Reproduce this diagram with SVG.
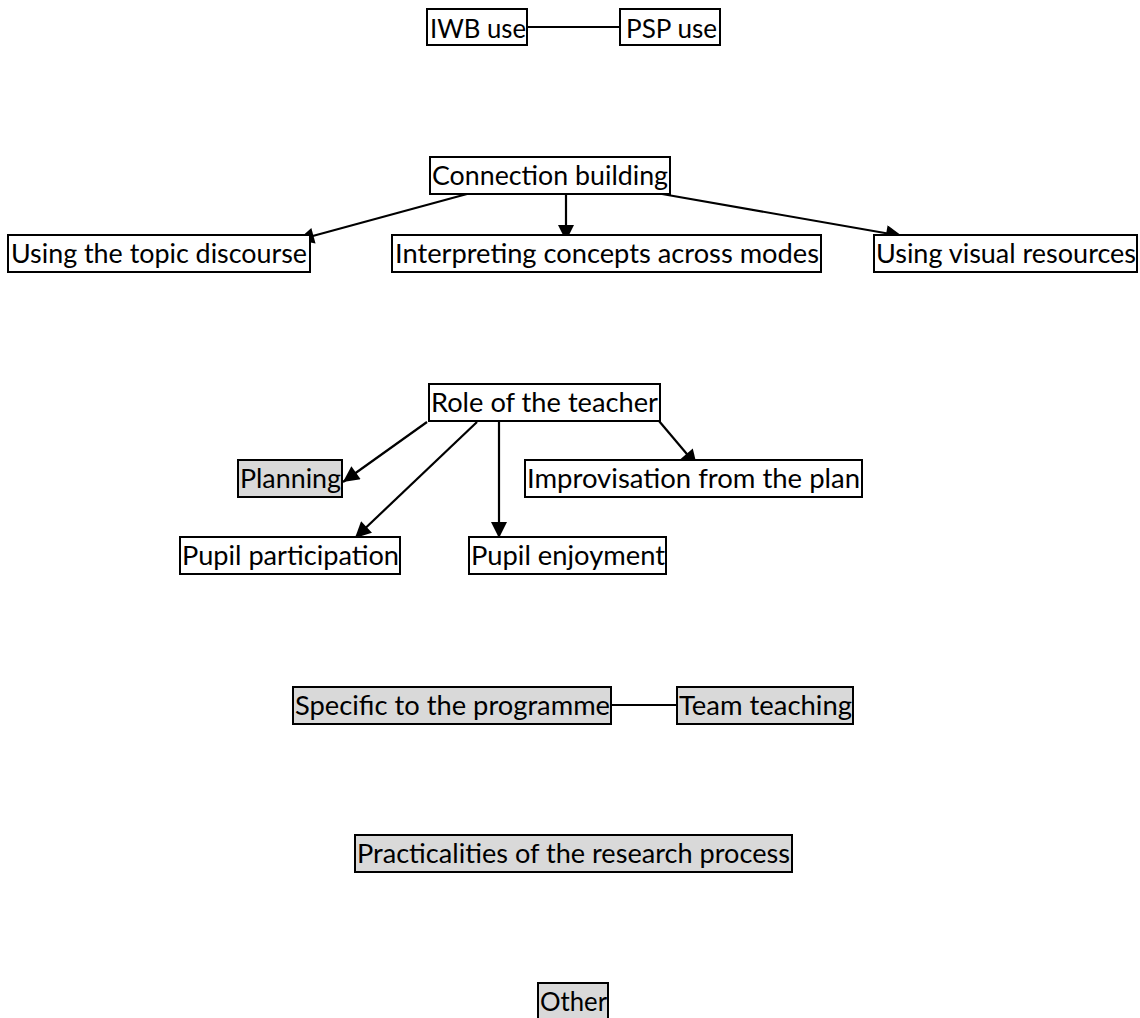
<svg xmlns="http://www.w3.org/2000/svg" width="1140" height="1018" viewBox="0 0 1140 1018">
<style>
.box{fill:#ffffff;stroke:#000000;stroke-width:2}
.gray{fill:#d9d9d9;stroke:#000000;stroke-width:2}
.lbl{font-family:Lato,"Open Sans","Liberation Sans",sans-serif;font-size:26.5px;fill:#000000}
.con{stroke:#000000;stroke-width:2;fill:none}
.arr{stroke:#000000;stroke-width:2.2;fill:none;marker-end:url(#ah)}
</style>
<defs>
<marker id="ah" viewBox="0 0 10 10" refX="10" refY="5" markerWidth="17" markerHeight="16" markerUnits="userSpaceOnUse" orient="auto">
<path d="M0,0 L10,5 L0,10 z" fill="#000000"/>
</marker>
</defs>
<rect width="1140" height="1018" fill="#ffffff"/>
<g id="connectors">
<line class="con" x1="527" y1="27" x2="620" y2="27" stroke-width="1.5"/>
<line class="con" x1="611" y1="705" x2="677" y2="705" stroke-width="1.5"/>
<line class="arr" x1="467" y1="194" x2="298" y2="240"/>
<line class="arr" x1="566" y1="194" x2="566" y2="241"/>
<line class="arr" x1="662" y1="194" x2="902" y2="236"/>
<line class="arr" x1="427" y1="422" x2="343" y2="482"/>
<line class="arr" x1="477" y1="422" x2="355" y2="538"/>
<line class="arr" x1="499" y1="422" x2="499" y2="538"/>
<line class="arr" x1="659" y1="421" x2="697" y2="466"/>
</g>
<g id="n-iwb"><rect class="box" x="427" y="9" width="100" height="36"/><text class="lbl" x="430" y="37.5" textLength="96" lengthAdjust="spacingAndGlyphs">IWB use</text></g>
<g id="n-psp"><rect class="box" x="620" y="9" width="100" height="36"/><text class="lbl" x="626" y="37.5" textLength="91" lengthAdjust="spacingAndGlyphs">PSP use</text></g>
<g id="n-connection"><rect class="box" x="430" y="157" width="240" height="37"/><text class="lbl" x="432" y="185" textLength="236" lengthAdjust="spacingAndGlyphs">Connection building</text></g>
<g id="n-topic"><rect class="box" x="8" y="235" width="302" height="37"/><text class="lbl" x="11" y="263" textLength="296" lengthAdjust="spacingAndGlyphs">Using the topic discourse</text></g>
<g id="n-interpreting"><rect class="box" x="392" y="235" width="429" height="37"/><text class="lbl" x="395" y="263" textLength="424" lengthAdjust="spacingAndGlyphs">Interpreting concepts across modes</text></g>
<g id="n-visual"><rect class="box" x="874" y="235" width="263" height="37"/><text class="lbl" x="876" y="263" textLength="260" lengthAdjust="spacingAndGlyphs">Using visual resources</text></g>
<g id="n-role"><rect class="box" x="429" y="384" width="231" height="37"/><text class="lbl" x="431" y="412" textLength="227" lengthAdjust="spacingAndGlyphs">Role of the teacher</text></g>
<g id="n-planning"><rect class="gray" x="238" y="460" width="104" height="37"/><text class="lbl" x="240" y="488" textLength="101" lengthAdjust="spacingAndGlyphs">Planning</text></g>
<g id="n-improvisation"><rect class="box" x="525" y="460" width="337" height="37"/><text class="lbl" x="527" y="488" textLength="333" lengthAdjust="spacingAndGlyphs">Improvisation from the plan</text></g>
<g id="n-participation"><rect class="box" x="180" y="537" width="220" height="37"/><text class="lbl" x="182" y="565" textLength="217" lengthAdjust="spacingAndGlyphs">Pupil participation</text></g>
<g id="n-enjoyment"><rect class="box" x="469" y="537" width="197" height="37"/><text class="lbl" x="471" y="565" textLength="194" lengthAdjust="spacingAndGlyphs">Pupil enjoyment</text></g>
<g id="n-specific"><rect class="gray" x="293" y="687" width="318" height="37"/><text class="lbl" x="295" y="715" textLength="315" lengthAdjust="spacingAndGlyphs">Specific to the programme</text></g>
<g id="n-team"><rect class="gray" x="677" y="687" width="176" height="37"/><text class="lbl" x="679" y="715" textLength="173" lengthAdjust="spacingAndGlyphs">Team teaching</text></g>
<g id="n-practicalities"><rect class="gray" x="355" y="835" width="437" height="37"/><text class="lbl" x="357" y="863" textLength="433" lengthAdjust="spacingAndGlyphs">Practicalities of the research process</text></g>
<g id="n-other"><rect class="gray" x="538" y="983" width="70" height="37"/><text class="lbl" x="540" y="1011" textLength="67" lengthAdjust="spacingAndGlyphs">Other</text></g>
</svg>
